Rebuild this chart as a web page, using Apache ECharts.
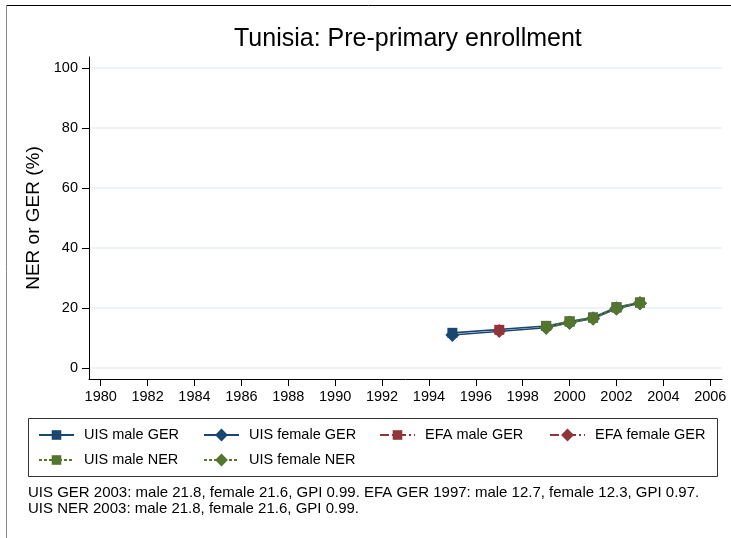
<!DOCTYPE html>
<html>
<head>
<meta charset="utf-8">
<script src="https://cdn.jsdelivr.net/npm/echarts@6/dist/echarts.min.js"></script>
<style>
  html, body { margin: 0; padding: 0; background: #fff; }
  #chart { width: 731px; height: 538px; }
</style>
</head>
<body>
<div id="chart"></div>
<script>
// years on the x axis
var years = [1995, 1997, 1999, 2000, 2001, 2002, 2003];
var xTicks = [1980, 1982, 1984, 1986, 1988, 1990, 1992, 1994, 1996, 1998, 2000, 2002, 2004, 2006];
var yTicks = [0, 20, 40, 60, 80, 100];

// UIS GER (no 1997 value)
var uisMaleGER   = [11.7, null, 14.0, 15.5, 16.8, 20.2, 21.8];
var uisFemaleGER = [11.0, null, 13.4, 15.1, 16.5, 19.8, 21.6];
// EFA GER (1997 only)
var efaMaleGER   = [null, 12.7, null, null, null, null, null];
var efaFemaleGER = [null, 12.3, null, null, null, null, null];
// UIS NER
var uisMaleNER   = [null, null, 14.0, 15.5, 16.8, 20.2, 21.8];
var uisFemaleNER = [null, null, 13.4, 15.1, 16.5, 19.8, 21.6];

var blue = '#1a476f', red = '#90353b', green = '#55752f';
var font = 'Liberation Sans, Arial, sans-serif';

function pairs(vals) {
  var out = [];
  for (var i = 0; i < years.length; i++) {
    if (vals[i] !== null) out.push([years[i], vals[i]]);
  }
  return out;
}

function line(name, vals, color, symbol, size, dash) {
  return {
    name: name,
    type: 'line',
    data: pairs(vals),
    symbol: symbol,
    symbolSize: size,
    showSymbol: true,
    connectNulls: true,
    lineStyle: { color: color, width: 1.6, type: dash },
    itemStyle: { color: color },
    animation: false
  };
}

var series = [
  line('UIS male GER', uisMaleGER, blue, 'rect', 10, 'solid'),
  line('UIS female GER', uisFemaleGER, blue, 'diamond', 14, 'solid'),
  line('EFA male GER', efaMaleGER, red, 'rect', 10, [9, 3, 2, 3]),
  line('EFA female GER', efaFemaleGER, red, 'diamond', 14, [9, 3, 2, 3]),
  line('UIS male NER', uisMaleNER, green, 'rect', 10, [3, 2]),
  line('UIS female NER', uisFemaleNER, green, 'diamond', 14, [3, 2])
];

// legend slots (left, row centre)
var slots = [[38, 436], [203, 436], [379, 436], [549, 436], [38, 461], [203, 461]];
var legends = series.map(function (s, i) {
  var h = s.symbol === 'diamond' ? 16 : 12;
  return {
    data: [s.name],
    left: slots[i][0],
    top: slots[i][1] - 8.5,
    itemWidth: 35,
    itemHeight: h,
    padding: 0,
    textStyle: { fontFamily: font, fontSize: 14.5, color: '#000', padding: [0, 0, 0, 5] }
  };
});

var chart = echarts.init(document.getElementById('chart'));
chart.setOption({
  backgroundColor: '#fff',
  title: {
    text: 'Tunisia: Pre-primary enrollment',
    left: 229,
    top: 22,
    textStyle: { fontFamily: font, fontSize: 25, fontWeight: 'normal', color: '#000' }
  },
  grid: { left: 89, right: 9, top: 57, bottom: 159 },
  legend: legends,
  xAxis: {
    type: 'value',
    min: 1979.5,
    max: 2006.5,
    axisLine: { show: true, onZero: false, lineStyle: { color: '#000', width: 1 } },
    axisTick: { show: true, length: 7, lineStyle: { color: '#000' }, customValues: xTicks },
    axisLabel: {
      customValues: xTicks, margin: 10, fontFamily: font, fontSize: 14.5, color: '#000',
      formatter: function (v) { return String(v); }
    },
    splitLine: { show: false }
  },
  yAxis: {
    type: 'value',
    min: -3.7,
    max: 103.7,
    name: 'NER or GER (%)',
    nameLocation: 'middle',
    nameGap: 38,
    nameTextStyle: { fontFamily: font, fontSize: 19, color: '#000' },
    axisLine: { show: true, onZero: false, lineStyle: { color: '#000', width: 1 } },
    axisTick: { show: true, length: 7, lineStyle: { color: '#000' }, customValues: yTicks },
    axisLabel: { customValues: yTicks, margin: 11, fontFamily: font, fontSize: 14.5, color: '#000' },
    splitLine: { show: true, lineStyle: { color: '#e8f0f2', width: 1.5 } }
  },
  graphic: [
    { type: 'rect', shape: { x: 28.5, y: 418.5, width: 689, height: 58 },
      style: { fill: 'none', stroke: '#333', lineWidth: 1 } },
    { type: 'line', shape: { x1: 6, y1: 5.5, x2: 731, y2: 5.5 }, style: { stroke: '#000', lineWidth: 1 } },
    { type: 'line', shape: { x1: 6.5, y1: 5, x2: 6.5, y2: 538 }, style: { stroke: '#888', lineWidth: 1 } },
    { type: 'text', left: 28, top: 485,
      style: { text: 'UIS GER 2003: male 21.8, female 21.6, GPI 0.99. EFA GER 1997: male 12.7, female 12.3, GPI 0.97.\nUIS NER 2003: male 21.8, female 21.6, GPI 0.99.',
               font: '15px ' + font, fill: '#000', lineHeight: 16 } }
  ],
  series: series
});
</script>
</body>
</html>
